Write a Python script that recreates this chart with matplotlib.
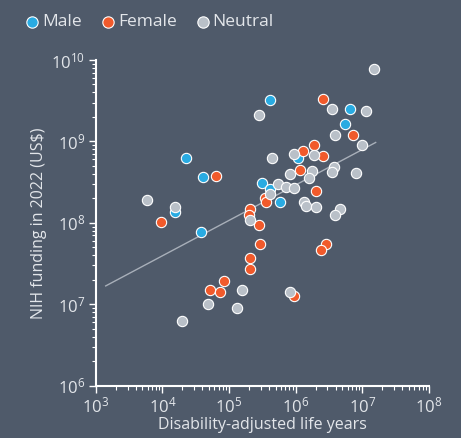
import matplotlib
matplotlib.use("Agg")
import matplotlib.pyplot as plt
import numpy as np

# values, stored as log10(DALY), log10(funding US$)
male_log_daly = [5.61, 4.35, 4.61, 5.49, 5.61, 5.77, 4.19, 4.58, 6.82, 6.74, 6.04]
male_log_fund = [9.51, 8.79, 8.56, 8.49, 8.42, 8.25, 8.13, 7.89, 9.40, 9.21, 8.79]

female_log_daly = [4.80, 5.54, 5.55, 3.98, 5.31, 5.30, 5.45, 6.41, 6.86, 6.27, 6.11, 6.41,
                   6.07, 6.30, 5.46, 5.31, 5.32, 4.92, 4.71, 4.86, 6.45, 6.38, 5.97]
female_log_fund = [8.57, 8.30, 8.25, 8.01, 8.17, 8.10, 7.97, 9.52, 9.08, 8.96, 8.88, 8.82,
                   8.65, 8.39, 7.74, 7.57, 7.43, 7.29, 7.18, 7.15, 7.74, 7.67, 7.10]

neutral_log_daly = [7.17, 5.45, 5.65, 5.74, 5.62, 3.77, 4.19, 5.32, 6.55, 7.05, 6.59, 7.00,
                    5.97, 6.28, 5.92, 6.24, 6.58, 6.55, 6.90, 6.20, 5.86, 5.97, 6.12, 6.15,
                    6.31, 6.67, 6.59, 5.20, 4.69, 5.12, 4.30, 5.92]
neutral_log_fund = [9.89, 9.33, 8.79, 8.48, 8.36, 8.28, 8.19, 8.03, 9.40, 9.37, 9.08, 8.96,
                    8.85, 8.83, 8.60, 8.64, 8.69, 8.62, 8.61, 8.55, 8.44, 8.43, 8.26, 8.21,
                    8.19, 8.17, 8.10, 7.18, 7.00, 6.96, 6.79, 7.15]

# trend line in log-log space
fit_log_daly = [3.15, 7.20]
fit_slope = 0.435
fit_intercept = 5.855

BG = '#4f5a6a'
FG = '#e3e6ea'
colors = {'Male': '#29abe2', 'Female': '#f15a2b', 'Neutral': '#b9c0c8'}

plt.rcParams['font.family'] = ['Open Sans', 'DejaVu Sans']

fig = plt.figure(figsize=(4.61, 4.38), dpi=100, facecolor=BG)
ax = fig.add_axes([0.2076, 0.1194, 0.7230, 0.7437])
ax.set_facecolor(BG)

fx = np.array(fit_log_daly)
ax.plot(10 ** fx, 10 ** (fit_intercept + fit_slope * fx), color='#a8afb9', lw=1, zorder=1)

groups = [('Male', male_log_daly, male_log_fund),
          ('Female', female_log_daly, female_log_fund),
          ('Neutral', neutral_log_daly, neutral_log_fund)]
for name, lx, ly in groups:
    ax.scatter(10 ** np.array(lx), 10 ** np.array(ly), s=55, color=colors[name],
               edgecolor='white', linewidth=0.8, label=name, zorder=3)

ax.set_xscale('log')
ax.set_yscale('log')
ax.set_xlim(1e3, 1e8)
ax.set_ylim(1e6, 1e10)

for side in ['top', 'right']:
    ax.spines[side].set_visible(False)
for side in ['left', 'bottom']:
    ax.spines[side].set_color('white')
    ax.spines[side].set_linewidth(1.5)

ax.tick_params(which='major', length=5, width=1, colors='white', labelcolor=FG, labelsize=12, pad=2.5)
ax.tick_params(which='minor', length=2.8, width=0.8, colors='white')

ax.set_xlabel('Disability-adjusted life years', color=FG, fontsize=11.5, labelpad=1)
ax.set_ylabel('NIH funding in 2022 (US$)', color=FG, fontsize=11.5, labelpad=3)

fig.legend(loc='upper left', bbox_to_anchor=(0.028, 0.995), ncol=3, frameon=False,
           handlelength=0.8, handletextpad=0.18, columnspacing=1.1, fontsize=12.5,
           labelcolor=FG, borderaxespad=0.3, markerscale=1.1)

fig.savefig('out.png', dpi=100, facecolor=BG)
